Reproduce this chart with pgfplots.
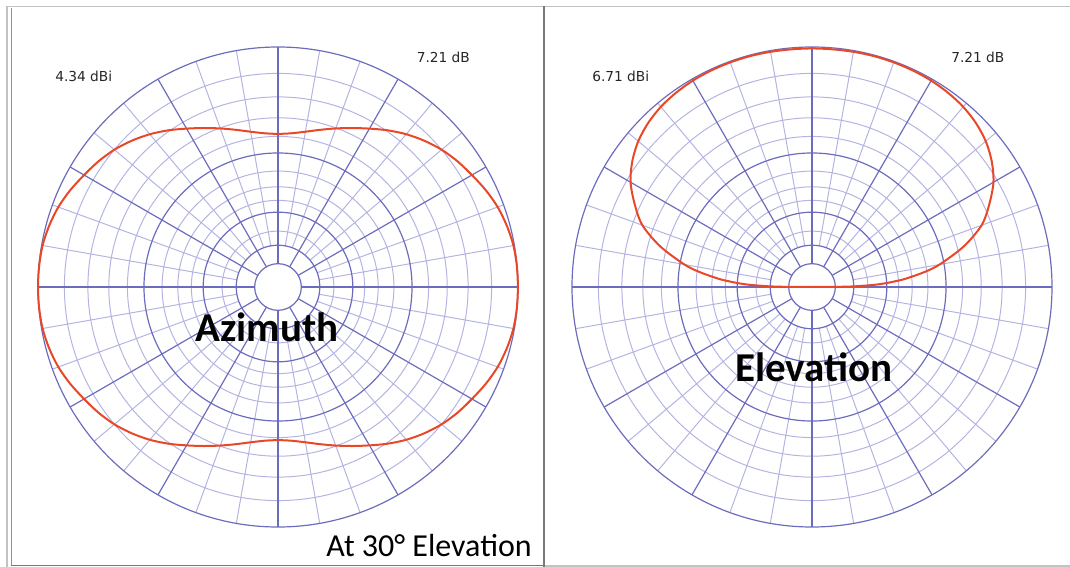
\documentclass[border=0pt]{standalone}
\usepackage{pgfplots}
\usepackage{pgfplotstable}
\pgfplotsset{compat=1.18}
\usepackage{fontspec}
\setmainfont{Carlito}
\newfontfamily\dv{DejaVu Sans}
\definecolor{gheavy}{RGB}{108,108,190}
\definecolor{glight}{RGB}{180,180,227}
\definecolor{pat}{RGB}{232,72,40}
\definecolor{frdark}{RGB}{120,120,120}
\definecolor{frlight}{RGB}{195,195,195}

% azimuth pattern (angle deg, normalized radius)
\pgfplotstableread{
a r
0 1.000
5 0.999
10 0.996
15 0.987
20 0.974
25 0.955
30 0.933
35 0.913
40 0.890
45 0.862
50 0.831
55 0.797
60 0.762
65 0.731
70 0.703
75 0.678
80 0.657
85 0.643
90 0.638
95 0.643
100 0.657
105 0.678
110 0.703
115 0.731
120 0.762
125 0.797
130 0.831
135 0.862
140 0.890
145 0.913
150 0.933
155 0.955
160 0.974
165 0.987
170 0.996
175 0.999
180 1.000
185 0.999
190 0.996
195 0.987
200 0.974
205 0.955
210 0.933
215 0.913
220 0.890
225 0.862
230 0.831
235 0.797
240 0.762
245 0.731
250 0.703
255 0.678
260 0.657
265 0.643
270 0.638
275 0.643
280 0.657
285 0.678
290 0.703
295 0.731
300 0.762
305 0.797
310 0.831
315 0.862
320 0.890
325 0.913
330 0.933
335 0.955
340 0.974
345 0.987
350 0.996
355 0.999
360 1.000
}\azdata

% elevation pattern (angle deg, normalized radius)
\pgfplotstableread{
a r
0 0.000
0.5 0.130
1 0.185
2 0.260
3 0.310
4 0.350
5 0.390
7.5 0.470
10 0.540
15 0.655
20 0.752
25 0.815
30 0.873
35 0.914
40 0.945
45 0.966
50 0.980
55 0.988
60 0.993
65 0.995
70 0.996
75 0.996
80 0.995
85 0.994
90 0.994
95 0.994
100 0.995
105 0.996
110 0.996
115 0.995
120 0.993
125 0.988
130 0.980
135 0.966
140 0.945
145 0.914
150 0.873
155 0.815
160 0.752
165 0.655
170 0.540
172.5 0.470
175 0.390
176 0.350
177 0.310
178 0.260
179 0.185
179.5 0.130
180 0.000
}\eldata

\pgfplotsset{polbox/.style={hide axis, clip=false, anchor=origin,
  x=180pt, y=180pt, xmin=-1.02, xmax=1.02, ymin=-1.02, ymax=1.02}}

\newcommand{\polgrid}{%
  \pgfplotsinvokeforeach{0.8900,0.7921,0.7050,0.6274,0.4830,0.4175,0.3610,0.2330}{%
    \draw[glight, line width=0.75pt] (axis cs:0,0) circle[radius=##1];}%
  \pgfplotsinvokeforeach{10,20,40,50,70,80,100,110,130,140,160,170,190,200,220,230,250,260,280,290,310,320,340,350}{%
    \draw[glight, line width=0.75pt] (axis cs:{0.1741*cos(##1)},{0.1741*sin(##1)}) -- (axis cs:{cos(##1)},{sin(##1)});}%
  \pgfplotsinvokeforeach{1.0,0.5584,0.3118,0.1741,0.0972}{%
    \draw[gheavy, line width=0.9pt] (axis cs:0,0) circle[radius=##1];}%
  \pgfplotsinvokeforeach{0,30,60,90,120,150,180,210,240,270,300,330}{%
    \draw[gheavy, line width=0.9pt] (axis cs:{0.0972*cos(##1)},{0.0972*sin(##1)}) -- (axis cs:{cos(##1)},{sin(##1)});}%
}

\begin{document}
\begin{tikzpicture}[x=0.75pt, y=0.75pt]
\coordinate (cA) at (278,-287);
\coordinate (cE) at (812,-287);
% frames
\draw[frlight, line width=0.9pt] (6,-6.3) -- (1070,-6.3);
\draw[frlight, line width=1.2pt] (6.8,-6.3) -- (6.8,-567);
\draw[frdark!80, line width=0.9pt] (11.6,-8) -- (11.6,-566);
\draw[frdark, line width=1.1pt] (11,-565.6) -- (544,-565.6);
\draw[frdark, line width=1.5pt] (544.3,-6.3) -- (544.3,-567);
\draw[frlight, line width=1.1pt] (545,-566) -- (1070,-566);

% Azimuth
\begin{axis}[polbox, at={(cA)}]
\polgrid
\addplot[pat, line width=1.5pt, smooth, no markers]
  table[x expr={\thisrow{r}*cos(\thisrow{a})}, y expr={\thisrow{r}*sin(\thisrow{a})}] {\azdata};
\end{axis}

% Elevation
\begin{axis}[polbox, at={(cE)}]
\polgrid
\addplot[pat, line width=1.5pt, smooth, no markers]
  table[x expr={\thisrow{r}*cos(\thisrow{a})}, y expr={\thisrow{r}*sin(\thisrow{a})}] {\eldata};
\end{axis}

% labels
\node[anchor=base west, inner sep=0pt, text=black!85] at (55,-81.5) {\dv\fontsize{10.3}{12}\selectfont 4.34 dBi};
\node[anchor=base west, inner sep=0pt, text=black!85] at (416.5,-63) {\dv\fontsize{10.3}{12}\selectfont 7.21 dB};
\node[anchor=base west, inner sep=0pt, text=black!85] at (592,-81.5) {\dv\fontsize{10.3}{12}\selectfont 6.71 dBi};
\node[anchor=base west, inner sep=0pt, text=black!85] at (951,-63) {\dv\fontsize{10.3}{12}\selectfont 7.21 dB};
\node[anchor=base, inner sep=0pt] at (267,-341.5) {\fontsize{30.75}{36}\selectfont\bfseries Azimuth};
\node[anchor=base, inner sep=0pt] at (814,-381) {\fontsize{30.75}{36}\selectfont\bfseries Elevation};
\node[anchor=base east, inner sep=0pt] at (532,-556.5) {\fontsize{24}{28}\selectfont At 30° Elevation};

\pgfresetboundingbox
\path[use as bounding box] (0,0) rectangle (1070,-567);
\end{tikzpicture}
\end{document}
